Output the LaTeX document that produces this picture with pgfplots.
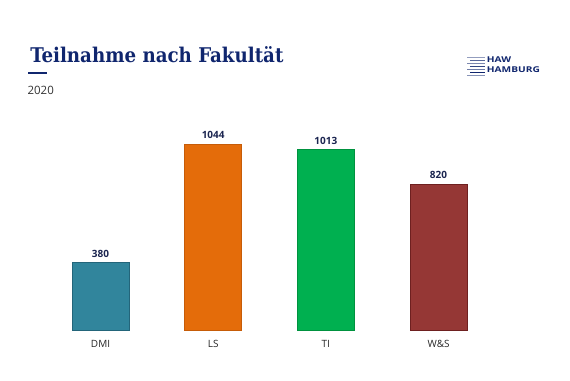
\documentclass[border=0pt]{standalone}
\usepackage{pgfplots}
\pgfplotsset{compat=1.18}
\usepackage{fontspec}
\setmainfont{Open Sans}
\newfontfamily\titlefont{DejaVu Serif Condensed}
\definecolor{navy}{RGB}{16,38,110}
\definecolor{lblnavy}{RGB}{27,37,80}
\definecolor{cDMI}{HTML}{31859C}
\definecolor{eDMI}{HTML}{23657A}
\definecolor{cLS}{HTML}{E46C0A}
\definecolor{eLS}{HTML}{C65C08}
\definecolor{cTI}{HTML}{00B050}
\definecolor{eTI}{HTML}{00923F}
\definecolor{cWS}{HTML}{953735}
\definecolor{eWS}{HTML}{6E2020}
\begin{document}
\begin{tikzpicture}
\path (0,0) rectangle (427.5pt,-285.75pt);
% title
\node[anchor=base west, inner sep=0, text=navy, font=\titlefont\bfseries\fontsize{15.2pt}{17pt}\selectfont] at (22.5pt,-47pt) {Teilnahme nach Fakultät};
\fill[navy] (21.3pt,-54pt) rectangle (35pt,-55.3pt);
\node[anchor=base west, inner sep=0, text=black!80, font=\fontsize{8.6pt}{10pt}\selectfont] at (20.5pt,-70.7pt) {2020};
% logo
\begin{scope}[line width=1pt]
\draw[navy!45] (350.5pt,-43pt) -- (363.5pt,-43pt);
\draw[navy!70] (352.5pt,-45.3pt) -- (363.5pt,-45.3pt);
\draw[navy!55] (350.5pt,-47.6pt) -- (363.5pt,-47.6pt);
\draw[navy!85] (352.5pt,-49.9pt) -- (363.5pt,-49.9pt);
\draw[navy!60] (350.5pt,-52.2pt) -- (363.5pt,-52.2pt);
\draw[navy] (352.5pt,-54.5pt) -- (363.5pt,-54.5pt);
\draw[navy!50] (350.5pt,-56.6pt) -- (363.5pt,-56.6pt);
\end{scope}
\node[anchor=base west, inner sep=0, text=navy, font=\bfseries\fontsize{6pt}{7pt}\selectfont] at (365pt,-46.8pt) {\scalebox{1.27}[1]{HAW}};
\node[anchor=base west, inner sep=0, text=navy, font=\bfseries\fontsize{6pt}{7pt}\selectfont] at (365pt,-54.3pt) {\scalebox{1.27}[1]{HAMBURG}};
% chart
\begin{axis}[
  at={(33.15pt,-247.5pt)}, anchor=south west,
  width=338pt, height=160.2pt, scale only axis,
  xmin=-0.5, xmax=3.5, ymin=0, ymax=1200,
  axis line style={draw=none}, tick style={draw=none},
  ytick=\empty,
  xtick={0,1,2,3},
  xticklabels={DMI,LS,TI,W\&S},
  xticklabel style={font=\fontsize{7.5pt}{9pt}\selectfont, text=black!85, yshift=0pt},
  ybar, bar width=42.75pt, bar shift=0pt,
  /pgf/number format/.cd, 1000 sep={}, assume math mode=true, /pgfplots/.cd,
  nodes near coords,
  nodes near coords style={font=\bfseries\fontsize{7.5pt}{9pt}\selectfont, text=lblnavy, anchor=base, inner sep=0, yshift=4pt},
  clip=false,
]
\addplot[fill=cDMI, draw=eDMI, line width=0.6pt] coordinates {(0,380)};
\addplot[fill=cLS, draw=eLS, line width=0.6pt] coordinates {(1,1044)};
\addplot[fill=cTI, draw=eTI, line width=0.6pt] coordinates {(2,1013)};
\addplot[fill=cWS, draw=eWS, line width=0.6pt] coordinates {(3,820)};
\end{axis}
\end{tikzpicture}
\end{document}
